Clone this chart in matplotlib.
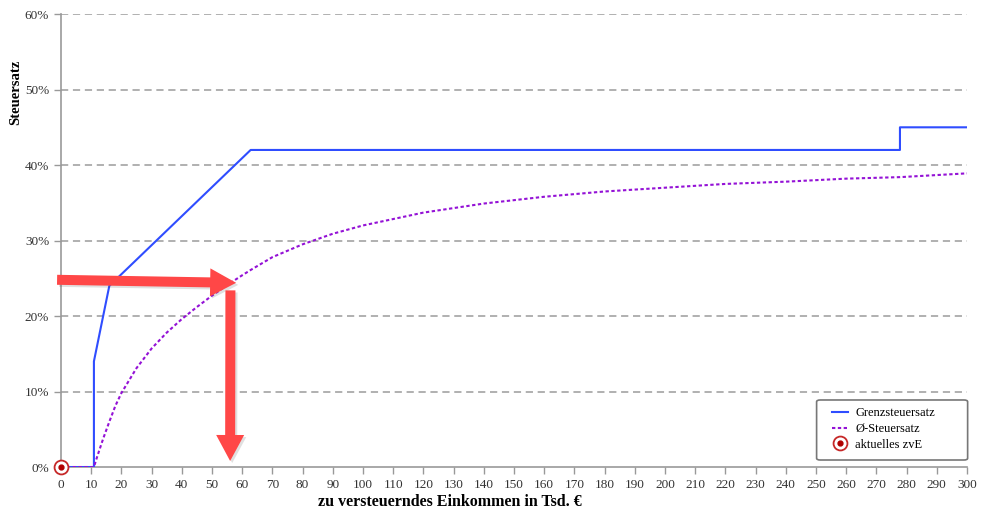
import matplotlib
matplotlib.use("Agg")
import matplotlib.pyplot as plt
import matplotlib.patheffects as pe
from matplotlib.patches import FancyArrow, FancyBboxPatch
from matplotlib.transforms import IdentityTransform
from matplotlib.legend_handler import HandlerTuple
from matplotlib.ticker import FuncFormatter

# Grenzsteuersatz (Eckpunkte, Einkommen in Tsd. €, Satz in %)
grenz_x = [0, 10.9, 10.9, 16.0, 62.8, 277.8, 277.8, 300]
grenz_y = [0, 0, 14.0, 24.0, 42.0, 42.0, 45.0, 45.0]

# Durchschnittssteuersatz
avg_x = [0, 10.9, 12, 14, 16, 18, 20, 25, 30, 35, 40, 45, 50, 55, 60, 62.8,
         70, 80, 90, 100, 120, 140, 160, 180, 200, 220, 240, 260, 277.8, 300]
avg_y = [0, 0, 1.4, 3.8, 6.0, 8.1, 9.8, 13.1, 15.7, 17.8, 19.6, 21.2, 22.7,
         24.1, 25.4, 26.1, 27.8, 29.5, 30.9, 32.0, 33.7, 34.9, 35.8, 36.5,
         37.0, 37.5, 37.8, 38.2, 38.4, 38.9]

# aktuelles zvE
zve_x = [0]
zve_y = [0]

# Pfeile (Start, Spitze) in Daten-Koordinaten
arrow_h = ((-1.3, 24.8), (58.0, 24.4))
arrow_v = ((56.1, 23.4), (56.0, 0.8))

x_ticks = list(range(0, 301, 10))
y_ticks = [0, 10, 20, 30, 40, 50, 60]

plt.rcParams['font.family'] = ['Liberation Serif', 'DejaVu Serif']

fig = plt.figure(figsize=(10, 5.21), dpi=100)
ax = fig.add_axes([0.061, 0.1036, 0.906, 0.8694])

gray = '#999999'
for yt in y_ticks[1:]:
    ax.axhline(yt, color='#aaaaaa', lw=1.3, dashes=(4, 2.6), zorder=0)

l1, = ax.plot(grenz_x, grenz_y, color='#2f4dff', lw=1.5, zorder=3)
l2, = ax.plot(avg_x, avg_y, color='#9412d6', lw=1.5, dashes=(1.6, 1.2), zorder=3)
m1, = ax.plot(zve_x, zve_y, 'o', ms=10, mfc='white', mec='#c62828', mew=1.3, clip_on=False, zorder=5)
m2, = ax.plot(zve_x, zve_y, 'o', ms=3.5, color='#b00000', clip_on=False, zorder=6)

ax.set_xlim(0, 300)
ax.set_ylim(0, 60)
ax.set_xticks(x_ticks)
ax.set_yticks(y_ticks)
ax.yaxis.set_major_formatter(FuncFormatter(lambda v, p: f"{int(v)}%"))

for s in ['top', 'right']:
    ax.spines[s].set_visible(False)
for s in ['left', 'bottom']:
    ax.spines[s].set_color(gray)
    ax.spines[s].set_linewidth(1.2)
ax.tick_params(axis='both', colors=gray, labelcolor='#333333', labelsize=9.5, length=5, width=1)

ax.set_xlabel('zu versteuerndes Einkommen in Tsd. €', fontsize=11.5, fontweight='bold')
ax.xaxis.set_label_coords(0.429, -0.06)
ax.set_ylabel('Steuersatz', fontsize=10.5, fontweight='bold')
ax.yaxis.set_label_coords(-0.043, 0.828)

# Pfeile in Pixeln zeichnen
shadow = [pe.SimplePatchShadow(offset=(1.5, -1.5), shadow_rgbFace='#555555', alpha=0.18), pe.Normal()]
for (start, tip) in [arrow_h, arrow_v]:
    x0, y0 = ax.transData.transform(start)
    x1, y1 = ax.transData.transform(tip)
    arr = FancyArrow(x0, y0, x1 - x0, y1 - y0, width=10, head_width=28, head_length=26,
                     length_includes_head=True, color='#ff4747', lw=0,
                     transform=IdentityTransform(), zorder=7)
    arr.set_path_effects(shadow)
    fig.add_artist(arr)

# Legende mit eigenem Rahmen
frame = FancyBboxPatch((0.834, 0.0155), 0.1667, 0.1325, boxstyle='round,pad=0,rounding_size=0.004',
                       transform=ax.transAxes, facecolor='white', edgecolor='#777777', lw=1.2,
                       clip_on=False, zorder=8)
ax.add_patch(frame)
leg = ax.legend([l1, l2, (m1, m2)], ['Grenzsteuersatz', 'Ø-Steuersatz', 'aktuelles zvE'],
                handler_map={tuple: HandlerTuple(ndivide=1)},
                loc='upper left', bbox_to_anchor=(0.8506, 0.132), fontsize=9,
                frameon=False, borderpad=0, borderaxespad=0,
                handlelength=1.3, labelspacing=0.3, handletextpad=0.6)
leg.set_zorder(9)

fig.savefig('out.png', dpi=100)
